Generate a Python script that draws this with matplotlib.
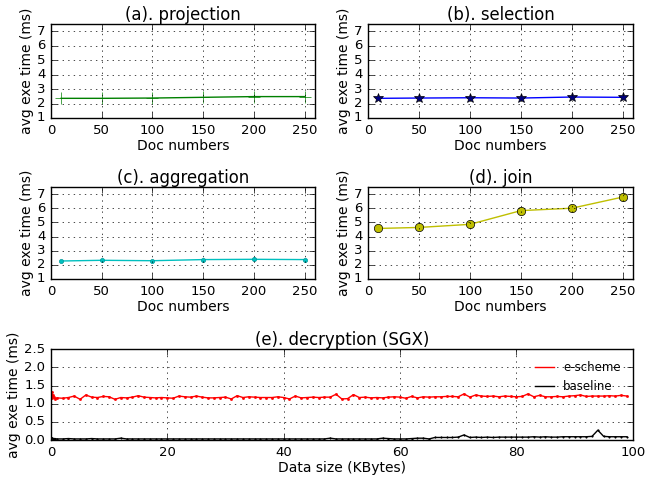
import numpy as np
import matplotlib
matplotlib.use('Agg')
import matplotlib.pyplot as plt

plt.style.use('classic')
plt.rcParams['font.family'] = ['DejaVu Sans']
plt.rcParams['figure.facecolor'] = 'white'
plt.rcParams['savefig.facecolor'] = 'white'
plt.rcParams['xtick.labelsize'] = 9.5
plt.rcParams['ytick.labelsize'] = 9.5
plt.rcParams['axes.labelsize'] = 10
plt.rcParams['axes.titlesize'] = 11.9

# ---------------- data ----------------
doc_numbers = [10, 50, 100, 150, 200, 250]
projection = [2.36, 2.36, 2.38, 2.43, 2.48, 2.48]
selection = [2.36, 2.38, 2.40, 2.38, 2.45, 2.43]
aggregation = [2.27, 2.32, 2.29, 2.37, 2.39, 2.37]
join = [4.57, 4.64, 4.86, 5.83, 6.00, 6.79]

data_size = [0.1, 0.2, 0.3, 0.5, 0.7] + list(range(1, 100))
escheme = [1.33, 1.15, 1.25, 1.18, 1.14,
           1.16, 1.15, 1.17, 1.21, 1.12, 1.24, 1.18, 1.17, 1.20, 1.19,   # 1-10
           1.12, 1.17, 1.16, 1.18, 1.22, 1.18, 1.17, 1.16, 1.17, 1.16,   # 11-20
           1.15, 1.21, 1.19, 1.18, 1.21, 1.18, 1.16, 1.16, 1.17, 1.18,   # 21-30
           1.13, 1.22, 1.17, 1.19, 1.18, 1.17, 1.17, 1.17, 1.19, 1.17,   # 31-40
           1.13, 1.21, 1.16, 1.17, 1.18, 1.17, 1.18, 1.18, 1.26, 1.13,   # 41-50
           1.14, 1.25, 1.17, 1.18, 1.16, 1.17, 1.16, 1.18, 1.19, 1.18,   # 51-60
           1.15, 1.20, 1.16, 1.19, 1.18, 1.19, 1.19, 1.20, 1.20, 1.19,   # 61-70
           1.27, 1.18, 1.24, 1.21, 1.20, 1.21, 1.19, 1.21, 1.20, 1.19,   # 71-80
           1.20, 1.27, 1.19, 1.23, 1.19, 1.19, 1.20, 1.19, 1.21, 1.22,   # 81-90
           1.24, 1.20, 1.21, 1.21, 1.21, 1.22, 1.21, 1.23, 1.21]         # 91-99
baseline = [0.06, 0.05, 0.04, 0.04, 0.04,
            0.03, 0.03, 0.04, 0.03, 0.03, 0.03, 0.04, 0.03, 0.03, 0.03,  # 1-10
            0.03, 0.05, 0.03, 0.03, 0.03, 0.03, 0.03, 0.03, 0.03, 0.03,  # 11-20
            0.03, 0.03, 0.03, 0.03, 0.03, 0.03, 0.03, 0.03, 0.03, 0.03,  # 21-30
            0.03, 0.03, 0.03, 0.03, 0.03, 0.03, 0.03, 0.03, 0.03, 0.03,  # 31-40
            0.03, 0.03, 0.03, 0.03, 0.03, 0.03, 0.03, 0.05, 0.03, 0.03,  # 41-50
            0.03, 0.03, 0.03, 0.03, 0.03, 0.03, 0.05, 0.04, 0.03, 0.03,  # 51-60
            0.03, 0.04, 0.05, 0.05, 0.03, 0.07, 0.07, 0.07, 0.07, 0.08,  # 61-70
            0.14, 0.07, 0.08, 0.07, 0.08, 0.07, 0.08, 0.08, 0.08, 0.08,  # 71-80
            0.08, 0.08, 0.09, 0.08, 0.09, 0.08, 0.08, 0.09, 0.09, 0.09,  # 81-90
            0.09, 0.09, 0.10, 0.27, 0.10, 0.09, 0.09, 0.09, 0.09]        # 91-99

fig = plt.figure(figsize=(6.45, 4.83), dpi=100)

small_axes = [
    ([0.079, 0.7557, 0.409, 0.1946], '(a). projection', projection,
     dict(color='g', marker='+', ms=8, mec='g')),
    ([0.5705, 0.7557, 0.411, 0.1946], '(b). selection', selection,
     dict(color='b', marker='*', ms=7, mec='k', mfc='#000080')),
    ([0.079, 0.4224, 0.409, 0.1905], '(c). aggregation', aggregation,
     dict(color='c', marker='.', ms=6, mec='#009999')),
    ([0.5705, 0.4224, 0.411, 0.1905], '(d). join', join,
     dict(color='y', marker='o', ms=6, mec='k')),
]

for rect, title, vals, style in small_axes:
    ax = fig.add_axes(rect)
    ax.plot(doc_numbers, vals, '-', lw=1, **style)
    ax.set_xlim(0, 260)
    ax.set_ylim(1, 7.5)
    ax.set_xticks([0, 50, 100, 150, 200, 250])
    ax.set_yticks([1, 2, 3, 4, 5, 6, 7])
    ax.set_title(title, pad=3)
    ax.set_xlabel('Doc numbers', labelpad=2)
    ax.set_ylabel('avg exe time (ms)', labelpad=2)
    ax.grid(True)

ax = fig.add_axes([0.079, 0.089, 0.902, 0.188])
ax.plot(data_size, escheme, 'r-', marker='.', ms=3, mec='r', lw=1, label='e-scheme')
ax.plot(data_size, baseline, 'k-', marker='.', ms=2, mec='k', lw=1, label='baseline')
ax.set_xlim(0, 100)
ax.set_ylim(0, 2.5)
ax.set_yticks([0.0, 0.5, 1.0, 1.5, 2.0, 2.5])
ax.set_title('(e). decryption (SGX)', pad=3)
ax.set_xlabel('Data size (KBytes)', labelpad=2)
ax.set_ylabel('avg exe time (ms)', labelpad=2)
ax.grid(True)
ax.legend(loc='upper right', frameon=False, fontsize=8.5, handlelength=1.6,
          numpoints=1, markerscale=0, borderaxespad=0.6)

fig.savefig('out.png', dpi=100)
